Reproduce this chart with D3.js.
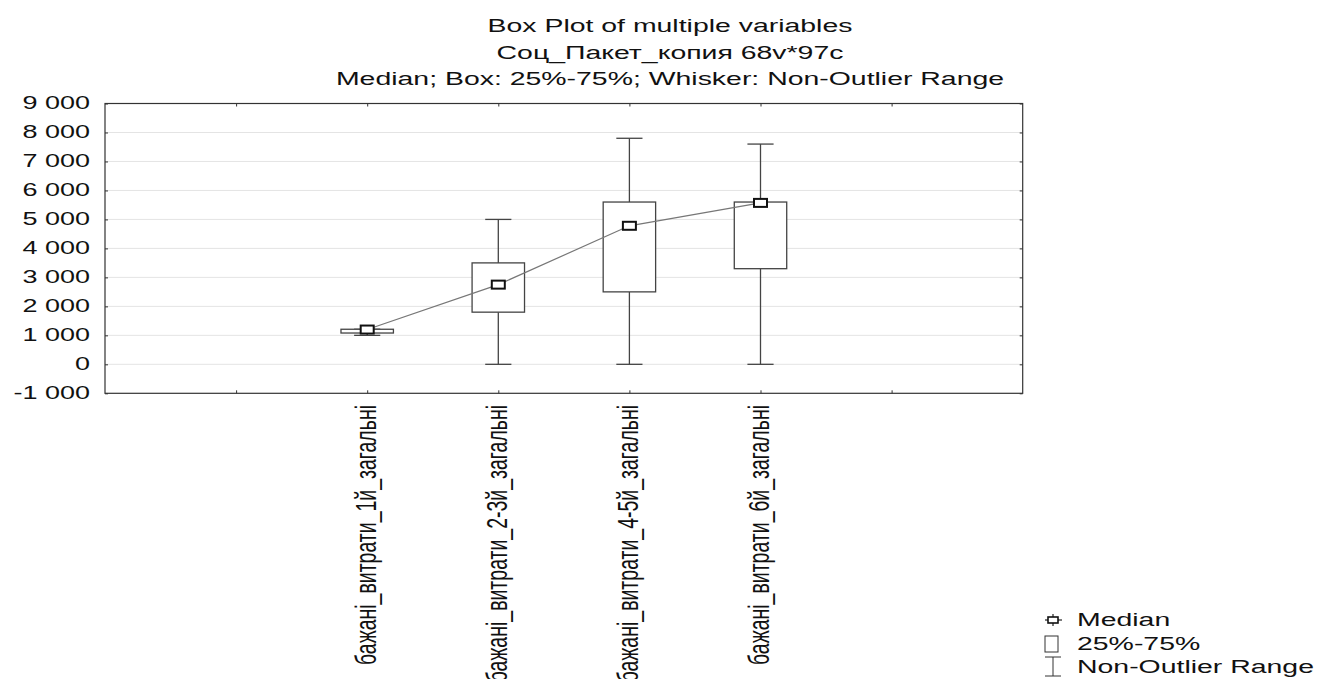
<!DOCTYPE html>
<html>
<head>
<meta charset="utf-8">
<script src="https://cdn.jsdelivr.net/npm/d3@7"></script>
<style>
  html, body { margin: 0; padding: 0; background: #fff; }
  svg { display: block; }
  text { font-family: "Liberation Sans", Arial, sans-serif; fill: #111; }
</style>
</head>
<body>
<svg id="chart" width="1319" height="679"></svg>
<script>
// ---- data ----
const categories = ["бажані_витрати_1й_загальні", "бажані_витрати_2-3й_загальні", "бажані_витрати_4-5й_загальні", "бажані_витрати_6й_загальні"];
const catPositions = [2, 3, 4, 5];
const medians = [1200, 2750, 4780, 5570];
const q1 = [1080, 1800, 2500, 3300];
const q3 = [1210, 3500, 5600, 5600];
const whiskerLow = [1000, 0, 0, 0];
const whiskerHigh = [1210, 5000, 7800, 7600];
const yTicks = [-1000, 0, 1000, 2000, 3000, 4000, 5000, 6000, 7000, 8000, 9000];
const xTicks = [1, 2, 3, 4, 5, 6];
const titleLines = ["Box Plot of multiple variables", "Соц_Пакет_копия 68v*97c", "Median; Box: 25%-75%; Whisker: Non-Outlier Range"];
const legendLabels = ["Median", "25%-75%", "Non-Outlier Range"];

// ---- layout ----
const svg = d3.select("#chart");
const L = 105, R = 1022.7, T = 103.5, B = 393.3;
const SX = 1.5; // horizontal stretch of the source image
const x = d3.scaleLinear().domain([0, 7]).range([L, R]);
const y = d3.scaleLinear().domain([-1000, 9000]).range([B, T]);
const loc = d3.formatLocale({decimal: ".", thousands: " ", grouping: [3], currency: ["", ""], minus: "-"});
const fmt = loc.format(",");

// title
svg.append("g").selectAll("text").data(titleLines).join("text")
  .attr("transform", (d, i) => `translate(670,${32 + i * 26.5}) scale(1.58,1)`)
  .attr("text-anchor", "middle")
  .style("font-size", "18px")
  .text(d => d);

// gridlines
svg.append("g").selectAll("line").data(yTicks.slice(1, -1)).join("line")
  .attr("x1", L).attr("x2", R)
  .attr("y1", d => y(d)).attr("y2", d => y(d))
  .attr("stroke", "#e4e4e4").attr("stroke-width", 1);

// axes (inward ticks)
const tk = 3;
const gl = svg.append("g").attr("transform", `translate(${L},0)`)
  .call(d3.axisRight(y).tickValues(yTicks).tickSize(tk).tickFormat(""));
const gr = svg.append("g").attr("transform", `translate(${R},0)`)
  .call(d3.axisLeft(y).tickValues(yTicks).tickSize(tk).tickFormat(""));
const gt = svg.append("g").attr("transform", `translate(0,${T})`)
  .call(d3.axisBottom(x).tickValues(xTicks).tickSize(tk).tickFormat(""));
const gb = svg.append("g").attr("transform", `translate(0,${B})`)
  .call(d3.axisTop(x).tickValues(xTicks).tickSize(tk).tickFormat(""));
[gl, gr, gt, gb].forEach(g => {
  g.select(".domain").remove();
  g.selectAll(".tick line").attr("stroke", "#333");
});

// y tick labels
svg.append("g").selectAll("text").data(yTicks).join("text")
  .attr("transform", d => `translate(90,${y(d)}) scale(${SX},1)`)
  .attr("text-anchor", "end")
  .attr("dy", "0.3em")
  .style("font-size", "18px")
  .text(d => fmt(d));

// frame
svg.append("rect").attr("x", L).attr("y", T).attr("width", R - L).attr("height", B - T)
  .attr("fill", "none").attr("stroke", "#333").attr("stroke-width", 1.2);

// x labels (rotated)
svg.append("g").selectAll("text").data(categories).join("text")
  .attr("transform", (d, i) => `translate(${x(catPositions[i])},405) scale(${SX},1) rotate(-90)`)
  .attr("text-anchor", "end")
  .attr("dy", "0.3em")
  .style("font-size", "19.5px")
  .text(d => d);

// boxes
const bw = (x(1) - x(0)) * 0.4;
const cw = bw * 0.48;
const boxes = svg.append("g");
categories.forEach((c, i) => {
  const cx = x(catPositions[i]);
  boxes.append("line").attr("x1", cx).attr("x2", cx)
    .attr("y1", y(whiskerHigh[i])).attr("y2", y(q3[i])).attr("stroke", "#444").attr("stroke-width", 1.3);
  boxes.append("line").attr("x1", cx).attr("x2", cx)
    .attr("y1", y(q1[i])).attr("y2", y(whiskerLow[i])).attr("stroke", "#444").attr("stroke-width", 1.3);
  [whiskerHigh[i], whiskerLow[i]].forEach(v => {
    boxes.append("line").attr("x1", cx - cw / 2 - 0.5).attr("x2", cx + cw / 2 + 0.5)
      .attr("y1", y(v)).attr("y2", y(v)).attr("stroke", "#444").attr("stroke-width", 1.3);
  });
  boxes.append("rect").attr("x", cx - bw / 2).attr("width", bw)
    .attr("y", y(q3[i])).attr("height", y(q1[i]) - y(q3[i]))
    .attr("fill", "#fff").attr("stroke", "#444").attr("stroke-width", 1.3);
});

// median line
svg.append("path")
  .datum(medians)
  .attr("d", d3.line().x((d, i) => x(catPositions[i])).y(d => y(d)))
  .attr("fill", "none").attr("stroke", "#777").attr("stroke-width", 1.2);

// median markers
svg.append("g").selectAll("rect").data(medians).join("rect")
  .attr("x", (d, i) => x(catPositions[i]) - 6.5).attr("y", d => y(d) - 4)
  .attr("width", 13).attr("height", 8)
  .attr("fill", "#fff").attr("stroke", "#111").attr("stroke-width", 2);

// legend
const lg = svg.append("g");
const lx = 1053, ly = [620, 644, 667];
// median symbol
lg.append("line").attr("x1", lx - 8).attr("x2", lx + 9).attr("y1", ly[0]).attr("y2", ly[0]).attr("stroke", "#222").attr("stroke-width", 1.2);
lg.append("line").attr("x1", lx).attr("x2", lx).attr("y1", ly[0] - 6).attr("y2", ly[0] + 6).attr("stroke", "#222").attr("stroke-width", 1.2);
lg.append("rect").attr("x", lx - 5).attr("y", ly[0] - 3).attr("width", 10).attr("height", 6)
  .attr("fill", "#fff").attr("stroke", "#111").attr("stroke-width", 1.6);
// box symbol
lg.append("rect").attr("x", lx - 8).attr("y", ly[1] - 8).attr("width", 13).attr("height", 16)
  .attr("fill", "#fff").attr("stroke", "#333").attr("stroke-width", 1);
// whisker symbol
lg.append("line").attr("x1", lx - 8).attr("x2", lx + 8).attr("y1", ly[2] - 10).attr("y2", ly[2] - 10).attr("stroke", "#333");
lg.append("line").attr("x1", lx).attr("x2", lx).attr("y1", ly[2] - 10).attr("y2", ly[2] + 9).attr("stroke", "#333");
lg.append("line").attr("x1", lx - 8).attr("x2", lx + 8).attr("y1", ly[2] + 9).attr("y2", ly[2] + 9).attr("stroke", "#333");
lg.selectAll("text").data(legendLabels).join("text")
  .attr("transform", (d, i) => `translate(1077,${ly[i]}) scale(1.58,1)`)
  .attr("dy", "0.36em")
  .style("font-size", "18px")
  .text(d => d);
</script>
</body>
</html>
